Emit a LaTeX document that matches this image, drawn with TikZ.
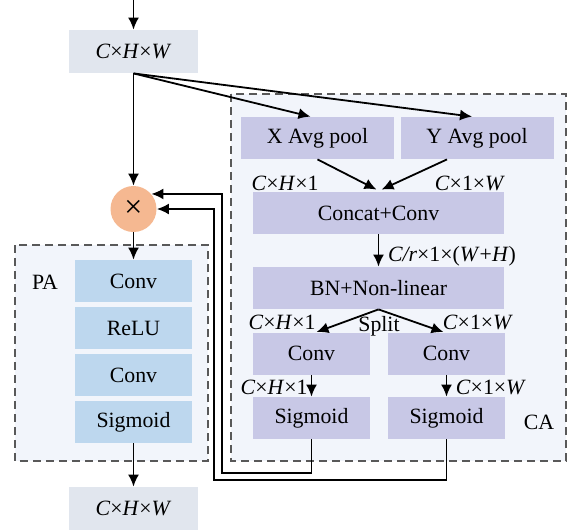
\documentclass[tikz,border=0pt]{standalone}
\usepackage{fontspec}
\setmainfont{Liberation Serif}
\usetikzlibrary{calc}
\usetikzlibrary{arrows.meta}
\definecolor{io-gray}{HTML}{E1E6EE}
\definecolor{ca-purple}{HTML}{C8C8E6}
\definecolor{pa-blue}{HTML}{BDD7EE}
\definecolor{panel-bg}{HTML}{F2F5FB}
\definecolor{mult-orange}{HTML}{F5B891}
\definecolor{dash-gray}{gray}{0.35}
\tikzstyle{block}=[inner sep=0pt, font=\fontsize{10.9}{12}\selectfont]
\tikzstyle{ioblock}=[block, fill=io-gray, minimum width=64.5pt, minimum height=21.5pt]
\tikzstyle{pablock}=[block, fill=pa-blue, minimum width=58.5pt, minimum height=21pt]
\tikzstyle{cablock}=[block, fill=ca-purple, minimum height=21pt]
\tikzstyle{dimlabel}=[inner sep=0pt, font=\fontsize{10.9}{12}\selectfont]
\tikzstyle{flow}=[line width=0.9pt, -{Latex[length=6pt,width=5.5pt]}]
\tikzstyle{panel}=[dash-gray, fill=panel-bg, line width=0.6pt, dash pattern=on 4pt off 2.5pt]
\newcommand{\dims}[3]{#1×#2×#3} % e.g. C x H x W, letters italic, numbers upright

\begin{document}
\begin{tikzpicture}[x=0.5pt,y=-0.5pt]
\useasboundingbox (0,0) rectangle (567,531);
% dashed panels
\draw[panel] (231,94) rectangle (566,461);
\draw[panel] (15,245) rectangle (208,461);
\node[dimlabel] (calabel) at (539,422) {CA};
\node[dimlabel] (palabel) at (45,282) {PA};
% input / output
\coordinate (in) at (133.5,0);
\node[ioblock] (top) at (133.5,51.5) {\dims{\textit{C}}{\textit{H}}{\textit{W}}};
\node[ioblock] (out) at (133.5,508.5) {\dims{\textit{C}}{\textit{H}}{\textit{W}}};
% multiply
\node[circle, fill=mult-orange, minimum size=23pt, inner sep=0pt, font=\fontsize{16}{16}\selectfont] (mult) at (133.5,209) {×};
% PA branch
\node[pablock] (pa1) at (133.5,281) {Conv};
\node[pablock] (pa2) at (133.5,328) {ReLU};
\node[pablock] (pa3) at (133.5,375) {Conv};
\node[pablock] (pa4) at (133.5,422) {Sigmoid};
% CA branch
\node[cablock, minimum width=76.5pt] (xpool) at (317.5,138) {X Avg pool};
\node[cablock, minimum width=76.5pt] (ypool) at (477,138) {Y Avg pool};
\node[cablock, minimum width=125.5pt] (concat) at (378.5,213) {Concat+Conv};
\node[cablock, minimum width=125.5pt] (bn) at (378.5,288) {BN+Non-linear};
\node[cablock, minimum width=58.5pt] (conv1) at (311.5,353.5) {Conv};
\node[cablock, minimum width=58.5pt] (conv2) at (446.5,353.5) {Conv};
\node[cablock, minimum width=58.5pt] (sig1) at (311.5,418) {Sigmoid};
\node[cablock, minimum width=58.5pt] (sig2) at (446.5,418) {Sigmoid};
% size labels
\node[dimlabel] (d1) at (285,183) {\dims{\textit{C}}{\textit{H}}{1}};
\node[dimlabel] (d2) at (470,183) {\dims{\textit{C}}{1}{\textit{W}}};
\node[dimlabel] (d3) at (452,256) {\textit{C/r}×1×(\textit{W}+\textit{H})};
\node[dimlabel] (d4) at (282,322) {\dims{\textit{C}}{\textit{H}}{1}};
\node[dimlabel] (split) at (379,326) {Split};
\node[dimlabel] (d5) at (478,322) {\dims{\textit{C}}{1}{\textit{W}}};
\node[dimlabel] (d6) at (274,387) {\dims{\textit{C}}{\textit{H}}{1}};
\node[dimlabel] (d7) at (491,387) {\dims{\textit{C}}{1}{\textit{W}}};
% connectors
\draw[flow] (in) -- (top.north);
\draw[flow] (top.south) -- (mult.north);
\draw[flow] (top.south) -- ([xshift=-3.5pt]xpool.north);
\draw[flow] (top.south) -- ([xshift=-2.5pt]ypool.north);
\draw[flow] (xpool.south) -- ([xshift=-1pt,yshift=1pt]concat.north);
\draw[flow] ([xshift=-15pt]ypool.south) -- ([xshift=1.5pt,yshift=1pt]concat.north);
\draw[flow] (concat.south) -- (bn.north);
\draw[flow] (bn.south) -- ([xshift=2.5pt]conv1.north);
\draw[flow] (bn.south) -- ([xshift=-1.5pt]conv2.north);
\draw[flow] (conv1.south) -- (sig1.north);
\draw[flow] (conv2.south) -- (sig2.north);
\draw[flow] (mult.south) -- (pa1.north);
\draw[flow] (pa4.south) -- (out.north);
% feedback to multiply
\coordinate (loopa) at (222,473);
\coordinate (loopb) at (214,480);
\draw[flow] (sig1.south) |- (loopa) |- (mult.40);
\draw[flow] (sig2.south) |- (loopb) |- (mult.east);
\end{tikzpicture}
\end{document}
